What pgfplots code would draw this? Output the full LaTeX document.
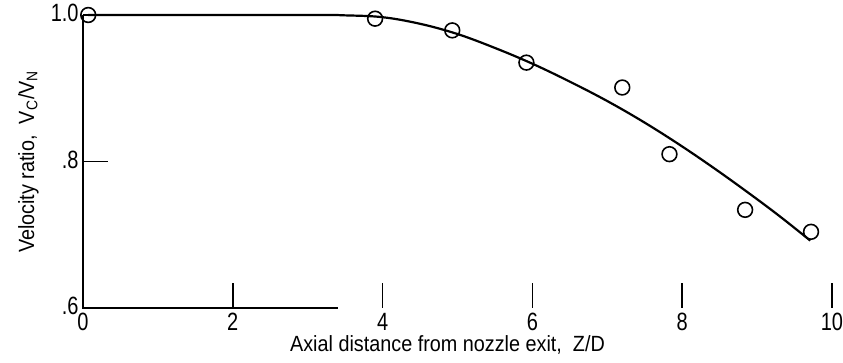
\documentclass[border=0pt]{standalone}
\usepackage{pgfplots}
\pgfplotsset{compat=1.18}
\usepackage{fontspec}
\setmainfont{Liberation Sans}[FakeStretch=0.9]
\newfontfamily\tickfont{Liberation Sans}[FakeStretch=0.8]
\begin{document}
\begin{tikzpicture}
\begin{axis}[
  at={(0,0)}, anchor=south west,
  scale only axis, width=374.5pt, height=146.5pt,
  xmin=0, xmax=10, ymin=0.6, ymax=1.0,
  clip=false,
  separate axis lines,
  x axis line style={draw=none},
  y axis line style={draw=none},
  xtick={0,2,4,6,8,10},
  ytick={0.6,0.8,1.0},
  yticklabels={.6,.8,1.0},
  xtick pos=bottom, ytick pos=left,
  tick align=inside,
  major tick length=12.5pt,
  tick style={black, line width=0.8pt},
  /pgf/number format/assume math mode=true,
  every tick label/.append style={font=\tickfont\fontsize{12.5}{14}\selectfont, inner sep=0.5pt},
  xticklabel style={yshift=-2pt},
  yticklabel style={xshift=-1.5pt, yshift=1pt},
  label style={font=\fontsize{11}{13}\selectfont},
  xlabel={Axial distance from nozzle exit,\ \ Z/D},
  ylabel={Velocity ratio,\ \ V\textsubscript{C}/V\textsubscript{N}},
  xlabel style={yshift=2pt, xshift=-5pt},
  ylabel style={yshift=2pt},
]
% axis lines
\addplot[black, line width=0.9pt] coordinates {(0,1.0) (0,0.6) (3.4,0.6)};
% faired curve
\addplot[black, line width=1.1pt, smooth, tension=0.6] coordinates {
(0.07,1.0) (3.0,1.0) (3.5,0.9995) (4.0,0.997) (4.5,0.988) (5.0,0.974)
(5.5,0.955) (6.0,0.9335) (6.5,0.909) (7.0,0.8825) (7.5,0.853)
(8.0,0.8205) (8.5,0.7855) (9.0,0.7485) (9.35,0.7214) (9.71,0.692)};
% data
\addplot[only marks, mark=o, mark size=3.7pt, mark options={line width=0.8pt, fill=white}] coordinates {
(0.07,1.0) (3.90,0.995) (4.93,0.979) (5.92,0.935) (7.20,0.901)
(7.83,0.810) (8.84,0.734) (9.72,0.704)};
\end{axis}
\pgfresetboundingbox
\path (-41.5pt,-27.5pt) rectangle (380pt,154pt);
\end{tikzpicture}
\end{document}
